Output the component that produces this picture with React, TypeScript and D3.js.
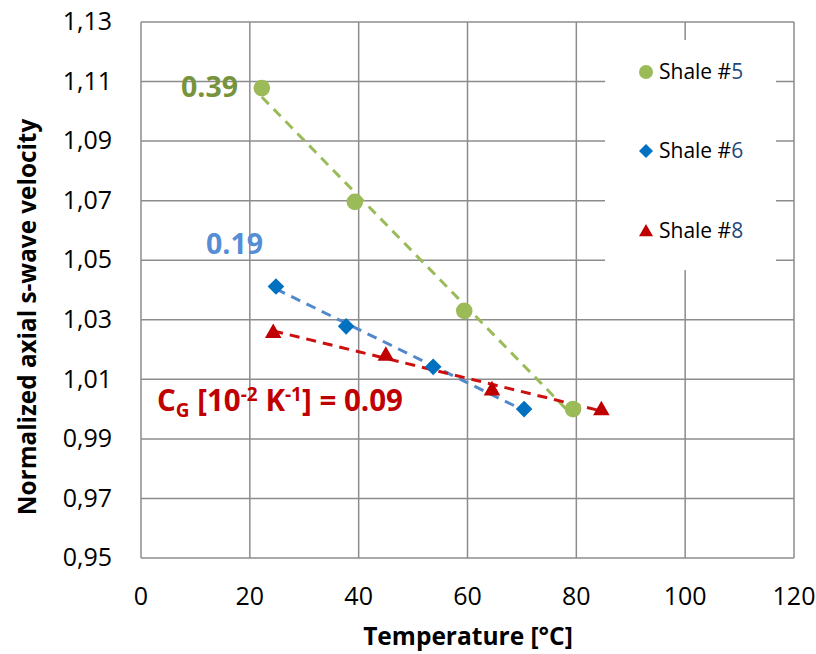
import React from "react";
import * as d3 from "d3";

const xTicks = [0, 20, 40, 60, 80, 100, 120];
const yTicks = [0.95, 0.97, 0.99, 1.01, 1.03, 1.05, 1.07, 1.09, 1.11, 1.13];

const shale5X = [22.2, 39.3, 59.4, 79.4];
const shale5Y = [1.1078, 1.0696, 1.033, 1.0];
const shale6X = [24.8, 37.7, 53.7, 70.4];
const shale6Y = [1.0412, 1.0278, 1.0142, 1.0];
const shale8X = [24.3, 45.0, 64.5, 84.6];
const shale8Y = [1.026, 1.0183, 1.0067, 1.0];

const seriesNames = ["Shale #", "Shale #", "Shale #"];
const seriesNums = ["5", "6", "8"];

function fit(xs: number[], ys: number[]) {
  const n = xs.length;
  const mx = d3.mean(xs)!;
  const my = d3.mean(ys)!;
  let sxy = 0, sxx = 0;
  for (let i = 0; i < n; i++) {
    sxy += (xs[i] - mx) * (ys[i] - my);
    sxx += (xs[i] - mx) ** 2;
  }
  const b = sxy / sxx;
  const a = my - b * mx;
  return (x: number) => a + b * x;
}

export default function App() {
  const W = 816, H = 654;
  const L = 141, R = 794, T = 22, B = 558;
  const x = d3.scaleLinear().domain([0, 120]).range([L, R]);
  const y = d3.scaleLinear().domain([0.95, 1.13]).range([B, T]);
  const fmt = (v: number) => v.toFixed(2).replace(".", ",");
  const font = "'Open Sans', 'DejaVu Sans', sans-serif";
  const grid = "#8c8c8c";

  const series = [
    { xs: shale5X, ys: shale5Y, color: "#9BBB59", line: "#9BBB59", shape: "circle" },
    { xs: shale6X, ys: shale6Y, color: "#0070C0", line: "#5289CB", shape: "diamond" },
    { xs: shale8X, ys: shale8Y, color: "#C00000", line: "#CC1010", shape: "triangle" },
  ];

  const marker = (shape: string, cx: number, cy: number, color: string, key: string, s = 8.3) => {
    if (shape === "circle") return <circle key={key} cx={cx} cy={cy} r={s} fill={color} />;
    if (shape === "diamond")
      return (
        <path key={key} d={`M${cx},${cy - s}L${cx + s},${cy}L${cx},${cy + s}L${cx - s},${cy}Z`} fill={color} />
      );
    return (
      <path key={key} d={`M${cx},${cy - s}L${cx + s},${cy + s * 0.75}L${cx - s},${cy + s * 0.75}Z`} fill={color} />
    );
  };

  const legendY = [72, 151, 231];

  return (
    <svg width={W} height={H} style={{ position: "absolute", left: 0, top: 0, background: "#fff" }}>
      {yTicks.map((t) => (
        <line key={"gy" + t} x1={L} x2={R} y1={y(t)} y2={y(t)} stroke={grid} strokeWidth={1.5} />
      ))}
      {xTicks.map((t) => (
        <line key={"gx" + t} x1={x(t)} x2={x(t)} y1={T} y2={B} stroke={grid} strokeWidth={1.5} />
      ))}
      {yTicks.map((t) => (
        <text key={"ty" + t} x={112} y={y(t)} dy="0.33em" textAnchor="end" fontFamily={font} fontSize={25} fill="#000">
          {fmt(t)}
        </text>
      ))}
      {xTicks.map((t) => (
        <text key={"tx" + t} x={x(t)} y={605} textAnchor="middle" fontFamily={font} fontSize={25} fill="#000">
          {t}
        </text>
      ))}
      <text x={468} y={645} textAnchor="middle" fontFamily={font} fontSize={24.5} fontWeight="bold">
        Temperature [°C]
      </text>
      <text
        transform={`translate(36,317) rotate(-90)`}
        textAnchor="middle"
        fontFamily={font}
        fontSize={24.3}
        fontWeight="bold"
      >
        Normalized axial s-wave velocity
      </text>

      {/* legend background */}
      <rect x={605} y={40} width={171} height={230} fill="#fff" />
      {series.map((s, i) => (
        <g key={"lg" + i}>
          {marker(s.shape, 646, legendY[i], s.color, "lm" + i, 7)}
          <text x={659} y={legendY[i] + 7} fontFamily={font} fontSize={21} fill="#000">
            {seriesNames[i]}
            <tspan fill="#1F497D">{seriesNums[i]}</tspan>
          </text>
        </g>
      ))}

      {series.map((s, i) => {
        const f = fit(s.xs, s.ys);
        const x0 = d3.min(s.xs)!, x1 = d3.max(s.xs)!;
        return (
          <line
            key={"tr" + i}
            x1={x(x0)}
            y1={y(f(x0))}
            x2={x(x1)}
            y2={y(f(x1))}
            stroke={s.line}
            strokeWidth={3}
            strokeDasharray="10,7"
          />
        );
      })}
      {series.map((s, i) => s.xs.map((xv, j) => marker(s.shape, x(xv), y(s.ys[j]), s.color, `m${i}-${j}`)))}

      <text x={181} y={97} fontFamily={font} fontSize={28.5} fontWeight="bold" fill="#77933C">0.39</text>
      <text x={206} y={254} fontFamily={font} fontSize={28.5} fontWeight="bold" fill="#558ED5">0.19</text>
      <text x={157} y={411} fontFamily={font} fontSize={29.5} fontWeight="bold" fill="#C00000">
        C<tspan fontSize={19} dy={6}>G</tspan>
        <tspan dy={-6}> [10</tspan>
        <tspan fontSize={19} dy={-10}>-2</tspan>
        <tspan dy={10}> K</tspan>
        <tspan fontSize={19} dy={-10}>-1</tspan>
        <tspan dy={10}>] = 0.09</tspan>
      </text>
    </svg>
  );
}
